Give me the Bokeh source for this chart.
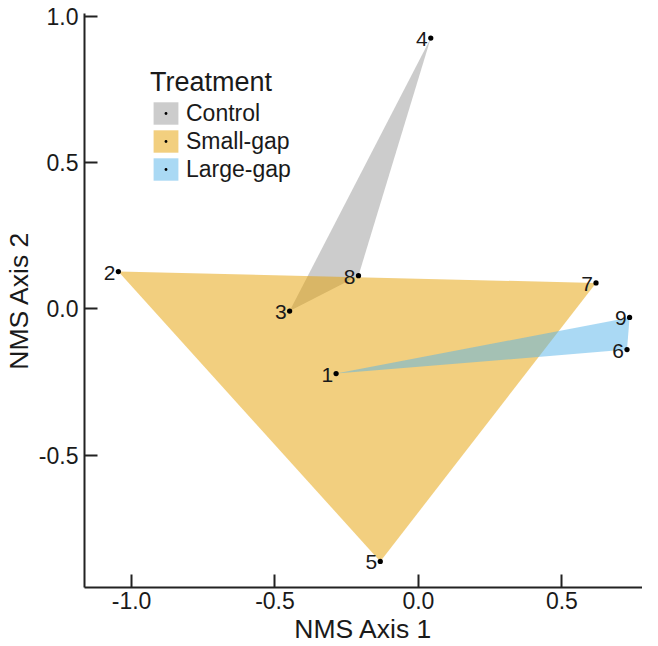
from bokeh.plotting import figure
from bokeh.models import (Range1d, FixedTicker, NumeralTickFormatter, Legend, LegendItem)
from bokeh.core.properties import value
from bokeh.embed import file_html
from bokeh.resources import INLINE

# ---- data ----
site = [1, 2, 3, 4, 5, 6, 7, 8, 9]
nms1 = [-0.287, -1.046, -0.449, 0.043, -0.133, 0.727, 0.619, -0.209, 0.736]
nms2 = [-0.221, 0.128, -0.007, 0.927, -0.864, -0.139, 0.089, 0.114, -0.029]
treatment = ["Large-gap", "Small-gap", "Control", "Control", "Small-gap",
             "Large-gap", "Small-gap", "Control", "Large-gap"]
groups = ["Control", "Small-gap", "Large-gap"]
colors = ["#999999", "#E69F00", "#56B4E9"]
x_ticks = [-1.0, -0.5, 0.0, 0.5]
y_ticks = [-0.5, 0.0, 0.5, 1.0]

FONT = "Liberation Sans"
INK = "#1a1a1a"

p = figure(width=642, height=646, output_backend="svg", toolbar_location=None,
           x_range=Range1d(-1.164, 0.781), y_range=Range1d(-0.953, 1.011),
           min_border_left=76, min_border_top=13, min_border_right=0, min_border_bottom=59)
p.grid.visible = False
p.outline_line_color = None
p.background_fill_color = "white"

items = []
for g, c in zip(groups, colors):
    idx = [i for i, t in enumerate(treatment) if t == g]
    gx = [nms1[i] for i in idx]
    gy = [nms2[i] for i in idx]
    pr = p.patch(gx, gy, fill_color=c, fill_alpha=0.5, line_color=None)
    items.append((g, pr, idx))

legend_items = []
for g, pr, idx in items:
    gx = [nms1[i] for i in idx]
    gy = [nms2[i] for i in idx]
    dr = p.scatter(gx, gy, marker="dot", size=21, line_color="black", fill_color="black")
    p.text(gx, gy, text=[str(site[i]) for i in idx],
           text_align="right", text_baseline="middle", x_offset=-3, y_offset=1,
           text_font=value(FONT), text_font_size="21px", text_color=INK)
    legend_items.append(LegendItem(label=g, renderers=[pr, dr]))

legend = Legend(items=legend_items, location=(66, 404), title="Treatment",
                title_text_font=FONT, title_text_font_size="27px", title_text_color=INK,
                title_text_font_style="normal", title_standoff=1,
                label_text_font=FONT, label_text_font_size="23px", label_text_color=INK,
                glyph_width=31, glyph_height=28, label_height=25, spacing=0,
                label_standoff=5, padding=0, margin=0,
                border_line_color=None, background_fill_alpha=0)
p.add_layout(legend, "center")

for ax in (p.xaxis[0], p.yaxis[0]):
    ax.axis_line_width = 2
    ax.axis_line_color = "#222222"
    ax.major_tick_line_width = 2
    ax.major_tick_line_color = "#222222"
    ax.major_tick_in = 13
    ax.major_tick_out = 0
    ax.minor_tick_line_color = None
    ax.major_label_text_font = FONT
    ax.major_label_text_font_size = "23px"
    ax.major_label_text_color = INK
    ax.axis_label_text_font = FONT
    ax.axis_label_text_font_size = "26.5px"
    ax.axis_label_text_font_style = "normal"
    ax.axis_label_text_color = INK
    ax.formatter = NumeralTickFormatter(format="0.0")

p.xaxis[0].ticker = FixedTicker(ticks=x_ticks)
p.yaxis[0].ticker = FixedTicker(ticks=y_ticks)
p.xaxis[0].axis_label = "NMS Axis 1"
p.yaxis[0].axis_label = "NMS Axis 2"
p.xaxis[0].major_label_standoff = 4
p.xaxis[0].axis_label_standoff = 2
p.yaxis[0].major_label_standoff = 6
p.yaxis[0].axis_label_standoff = 2

open("out.html", "w").write(file_html(p, INLINE))
